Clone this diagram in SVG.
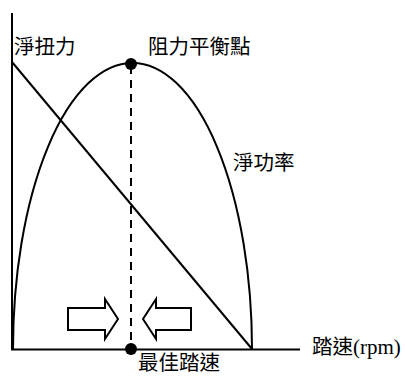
<svg xmlns="http://www.w3.org/2000/svg" width="405" height="376" viewBox="0 0 405 376">
<style>
.ln{fill:none;stroke:#000;stroke-width:2}
.cjk{font-family:"Noto Sans CJK TC","Noto Sans CJK SC",sans-serif;font-size:20.5px;fill:#000}
.ser{font-family:"Liberation Serif",serif;font-size:21px;fill:#000}
.arr{fill:#fff;stroke:#000;stroke-width:2;stroke-linejoin:miter}
</style>
<rect width="405" height="376" fill="#fff"/>
<g id="connectors">
<path id="axis-y" class="ln" d="M12,13 V350"/>
<path id="axis-x" class="ln" d="M11,349.5 H300"/>
<path id="torque" class="ln" d="M12,62 L252,349"/>
<path id="power" class="ln" d="M13,349 A119.5,286 0 0 1 252,349"/>
<path id="dash" class="ln" d="M131,66 V349" stroke-dasharray="8,6"/>
</g>
<g id="dot-top"><circle cx="131" cy="64" r="6" fill="#000"/></g>
<g id="dot-bottom"><circle cx="131" cy="349" r="6" fill="#000"/></g>
<g id="arrow-right"><path class="arr" d="M68,308 H105 V299 L118,319 L105,339 V330 H68 Z"/></g>
<g id="arrow-left"><path class="arr" d="M191,308 H156 V299 L143,319 L156,339 V330 H191 Z"/></g>
<g id="label-torque"><text class="cjk" x="14" y="54">淨扭力</text></g>
<g id="label-balance"><text class="cjk" x="148" y="54">阻力平衡點</text></g>
<g id="label-power"><text class="cjk" x="233" y="170">淨功率</text></g>
<g id="label-cadence"><text x="312" y="354"><tspan class="cjk">踏速</tspan><tspan class="ser">(rpm)</tspan></text></g>
<g id="label-best"><text class="cjk" x="138" y="370">最佳踏速</text></g>
</svg>
